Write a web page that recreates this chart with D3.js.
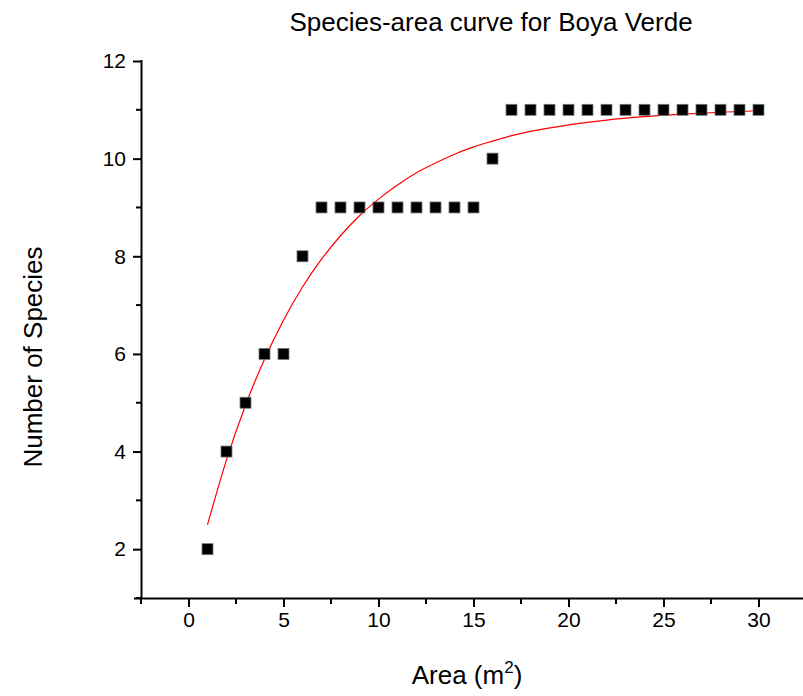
<!DOCTYPE html>
<html><head><meta charset="utf-8">
<script src="https://cdn.jsdelivr.net/npm/d3@7"></script>
<style>body{margin:0;background:#fff;}svg{display:block;font-family:"Liberation Sans",Arial,sans-serif;}</style>
</head><body><svg id="c" width="803" height="696"></svg>
<script>
const areas = [1,2,3,4,5,6,7,8,9,10,11,12,13,14,15,16,17,18,19,20,21,22,23,24,25,26,27,28,29,30];
const species = [2,4,5,6,6,8,9,9,9,9,9,9,9,9,9,10,11,11,11,11,11,11,11,11,11,11,11,11,11,11];
const fitX = [1,2,3,4,5,6,7,8,9,10,11,12,13,14,15,16,17,18,20,22,24,26,28,30];
const fitY = [2.5,3.83,4.95,5.89,6.69,7.37,7.94,8.42,8.83,9.17,9.46,9.71,9.91,10.09,10.24,10.36,10.47,10.56,10.69,10.79,10.86,10.91,10.95,10.98];
const xMajor = [0,5,10,15,20,25,30];
const xMinor = [-2.5,2.5,7.5,12.5,17.5,22.5,27.5,32.5];
const yMajor = [2,4,6,8,10,12];
const yMinor = [1,3,5,7,9,11];

const svg = d3.select("#c");
const x = d3.scaleLinear().domain([-2.5,32.5]).range([141,806]);
const y = d3.scaleLinear().domain([1,12]).range([598,61]);
const FF = "Liberation Sans, Arial, sans-serif";

// axes
const xAxis = d3.axisBottom(x).tickValues(xMajor).tickSize(9).tickPadding(5).tickFormat(d3.format("d"));
const gx = svg.append("g").attr("transform","translate(0,598)").call(xAxis);
gx.select(".domain").attr("d",`M134,0.5H806`).attr("stroke","#000").attr("stroke-width",2);
gx.selectAll(".tick line").attr("stroke-width",2);
gx.selectAll("text").attr("font-size",21).attr("fill","#000").attr("font-family",FF);
svg.append("g").selectAll("line").data(xMinor).join("line")
  .attr("x1",d=>x(d)).attr("x2",d=>x(d)).attr("y1",598).attr("y2",604).attr("stroke","#000").attr("stroke-width",2);

const yAxis = d3.axisLeft(y).tickValues(yMajor).tickSize(8).tickPadding(7).tickFormat(d3.format("d"));
const gy = svg.append("g").attr("transform","translate(141,0)").call(yAxis);
gy.select(".domain").attr("d",`M0.5,60V599`).attr("stroke","#000").attr("stroke-width",2);
gy.selectAll(".tick line").attr("stroke-width",2);
gy.selectAll("text").attr("font-size",21).attr("fill","#000").attr("font-family",FF);
svg.append("g").selectAll("line").data(yMinor).join("line")
  .attr("x1",136).attr("x2",141).attr("y1",d=>y(d)).attr("y2",d=>y(d)).attr("stroke","#000").attr("stroke-width",2);

// fit curve
const line = d3.line().x(d=>x(d[0])).y(d=>y(d[1])).curve(d3.curveMonotoneX);
svg.append("path").datum(fitX.map((v,i)=>[v,fitY[i]])).attr("d",line)
  .attr("fill","none").attr("stroke","#ff0000").attr("stroke-width",1.2);

// points
const s = 11;
svg.append("g").selectAll("rect").data(areas).join("rect")
  .attr("x",(d)=>x(d)-s/2).attr("y",(d,i)=>y(species[i])-s/2)
  .attr("width",s).attr("height",s).attr("fill","#000").attr("stroke","#777").attr("stroke-width",0.8);

// texts
svg.append("text").attr("x",491).attr("y",31).attr("text-anchor","middle").attr("font-size",26).attr("font-family",FF).text("Species-area curve for Boya Verde");
svg.append("text").attr("transform","translate(42,357) rotate(-90)").attr("text-anchor","middle").attr("font-size",26).attr("font-family",FF).text("Number of Species");
const xl = svg.append("text").attr("x",467).attr("y",684).attr("text-anchor","middle").attr("font-size",26).attr("font-family",FF);
xl.append("tspan").text("Area (m");
xl.append("tspan").attr("font-size",17).attr("dy",-11).text("2");
xl.append("tspan").attr("dy",11).text(")");
</script></body></html>
